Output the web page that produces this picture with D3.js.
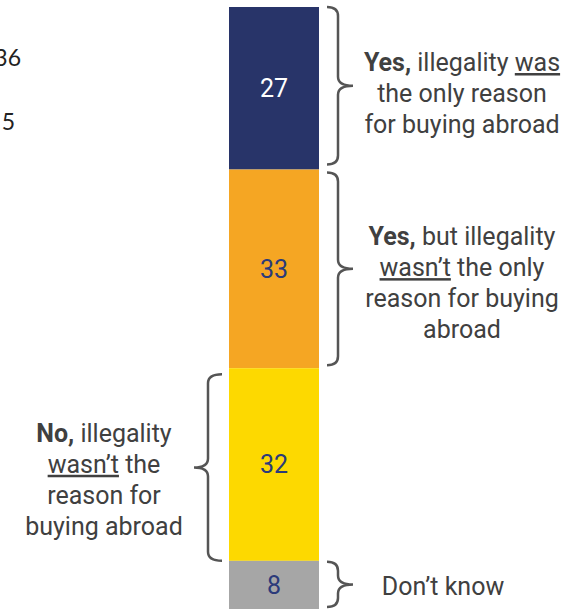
<!DOCTYPE html>
<html>
<head>
<meta charset="utf-8">
<script src="https://cdn.jsdelivr.net/npm/d3@7"></script>
<style>
  html, body { margin: 0; padding: 0; background: #fff; }
  svg { display: block; }
</style>
</head>
<body>
<svg id="chart" width="581" height="610"></svg>
<script>
// ---- data ----
const categories = ["Yes, only reason", "Yes, not only reason", "No", "Don't know"];
const values = [27, 33, 32, 8];
const palette = ["#283469", "#f5a623", "#fdd900", "#a6a6a6"];
const labelColors = ["#ffffff", "#2b3a7a", "#2b3a7a", "#2b3a7a"];
const braceSides = ["right", "right", "left", "right"];
// annotation lines: segments [text, style]  (b = bold, u = underline)
const annotations = [
  [[["Yes,", "b"], [" illegality ", ""], ["was", "u"]], [["the only reason", ""]], [["for buying abroad", ""]]],
  [[["Yes,", "b"], [" but illegality", ""]], [["wasn\u2019t", "u"], [" the only", ""]], [["reason for buying", ""]], [["abroad", ""]]],
  [[["No,", "b"], [" illegality", ""]], [["wasn\u2019t", "u"], [" the", ""]], [["reason for", ""]], [["buying abroad", ""]]],
  [[["Don\u2019t know", ""]]]
];
// fragments of a neighbouring chart cut off at the left edge
const edgeLabels = ["36", "5"];

// ---- layout ----
const svg = d3.select("#chart");
const font = "Roboto, 'Open Sans', sans-serif";
const textColor = "#404040";
const annShift = [5, 14, 15, 1];

const y = d3.scaleLinear().domain([0, 100]).range([7, 609]);
const x = d3.scaleBand().domain(["all"]).range([229, 319]).padding(0);

let acc = 0;
const stack = values.map((v, i) => {
  const d = { cat: categories[i], v, y0: acc, y1: acc + v, i };
  acc += v;
  return d;
});

svg.selectAll("rect.seg").data(stack).join("rect")
  .attr("class", "seg")
  .attr("x", x("all"))
  .attr("width", x.bandwidth())
  .attr("y", d => y(d.y0))
  .attr("height", d => y(d.y1) - y(d.y0))
  .attr("fill", d => palette[d.i]);

svg.selectAll("text.val").data(stack).join("text")
  .attr("class", "val")
  .attr("x", x("all") + x.bandwidth() / 2)
  .attr("y", d => y((d.y0 + d.y1) / 2))
  .attr("dy", "0.35em")
  .attr("text-anchor", "middle")
  .attr("font-family", font)
  .attr("font-size", 25)
  .attr("fill", d => labelColors[d.i])
  .text(d => d.v);

// braces
function bracePath(side, top, bot) {
  const mid = (top + bot) / 2;
  const r = 9;
  if (side === "right") {
    const x0 = x("all") + x.bandwidth() + 8, xv = x0 + 11, xt = xv + 15;
    return `M${x0},${top} Q${xv},${top} ${xv},${top + r} L${xv},${mid - r} Q${xv},${mid} ${xt},${mid} ` +
           `Q${xv},${mid} ${xv},${mid + r} L${xv},${bot - r} Q${xv},${bot} ${x0},${bot}`;
  } else {
    const x0 = x("all") - 7, xv = x0 - 14, xt = xv - 14;
    return `M${x0},${top} Q${xv},${top} ${xv},${top + r} L${xv},${mid - r} Q${xv},${mid} ${xt},${mid} ` +
           `Q${xv},${mid} ${xv},${mid + r} L${xv},${bot - r} Q${xv},${bot} ${x0},${bot}`;
  }
}
const braceInset = [[0, 5], [3, 3], [6, 0], [1, 2]];
svg.selectAll("path.brace").data(stack).join("path")
  .attr("class", "brace")
  .attr("d", d => bracePath(braceSides[d.i], y(d.y0) + braceInset[d.i][0], y(d.y1) - braceInset[d.i][1]))
  .attr("fill", "none")
  .attr("stroke", "#555555")
  .attr("stroke-width", 2.5);

// annotation texts
const lineH = 31;
const annX = { right: 462, left: 104 };
stack.forEach(d => {
  const lines = annotations[d.i];
  const side = braceSides[d.i];
  const cx = d.i === 3 ? 443 : annX[side];
  const mid = y((d.y0 + d.y1) / 2) + annShift[d.i];
  const startY = mid - (lines.length - 1) * lineH / 2;
  const t = svg.append("text")
    .attr("font-family", font)
    .attr("font-size", 25)
    .attr("fill", textColor)
    .attr("text-anchor", "middle");
  lines.forEach((segs, li) => {
    const line = t.append("tspan").attr("x", cx).attr("y", startY + li * lineH).attr("dy", "0.35em");
    segs.forEach(([str, st]) => {
      const s = line.append("tspan").text(str);
      if (st === "b") s.attr("font-weight", "bold");
      if (st === "u") s.attr("text-decoration", "underline");
    });
  });
});

// edge fragments
svg.selectAll("text.edge").data(edgeLabels).join("text")
  .attr("class", "edge")
  .attr("x", (d, i) => i === 0 ? 21 : 15)
  .attr("y", (d, i) => i === 0 ? 66 : 130)
  .attr("text-anchor", "end")
  .attr("font-family", "Lato, 'Open Sans', sans-serif")
  .attr("font-size", 23)
  .attr("fill", "#222")
  .text(d => d);
</script>
</body>
</html>
